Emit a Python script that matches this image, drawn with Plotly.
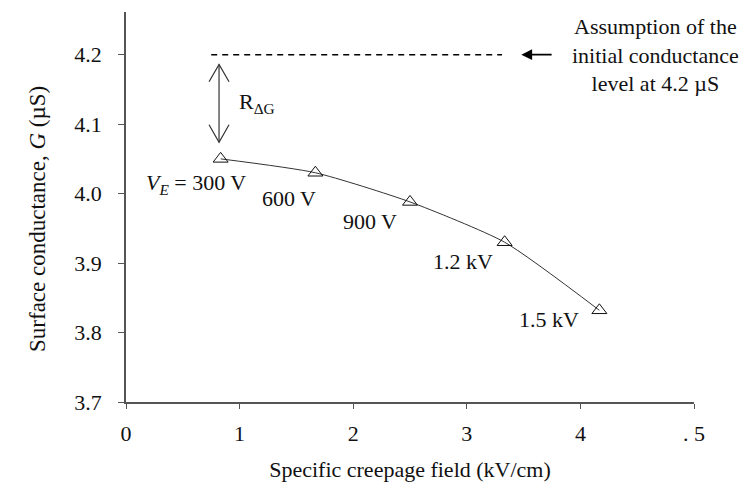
import plotly.graph_objects as go

# Data
field_kv_cm = [0.833, 1.667, 2.5, 3.333, 4.167]
conductance_us = [4.05, 4.03, 3.988, 3.93, 3.832]
point_labels = ["<i>V<sub>E</sub></i> = 300 V", "600 V", "900 V", "1.2 kV", "1.5 kV"]
x_tickvals = [0, 1, 2, 3, 4, 5]
x_ticktext = ["0", "1", "2", "3", "4", ". 5"]
y_tickvals = [3.7, 3.8, 3.9, 4.0, 4.1, 4.2]
initial_level = 4.2

FONT = "Liberation Serif"
FS = 22
fig = go.Figure()

fig.add_trace(go.Scatter(
    x=field_kv_cm, y=conductance_us, mode="lines+markers",
    line=dict(color="#333333", width=1, shape="spline", smoothing=0.6),
    marker=dict(symbol="triangle-up-open", size=13, color="#111111", line=dict(width=1)),
    showlegend=False, hoverinfo="skip",
))

# point labels (offsets in pixels from each marker)
label_shifts = [(-25, 25), (-26, 26), (-40, 20), (-42, 19), (-50, 9)]
for xv, yv, txt, (dx, dy) in zip(field_kv_cm, conductance_us, point_labels, label_shifts):
    fig.add_annotation(x=xv, y=yv, text=txt, showarrow=False, xshift=dx, yshift=-dy,
                       font=dict(family=FONT, size=FS, color="#111111"))

# dashed assumption line
fig.add_shape(type="line", x0=0.75, x1=3.31, y0=initial_level, y1=initial_level,
              line=dict(color="#000000", width=1.5, dash="6px,5px"))
# left-pointing arrow
fig.add_annotation(x=3.48, y=initial_level, ax=3.76, ay=initial_level,
                   xref="x", yref="y", axref="x", ayref="y", text="",
                   showarrow=True, arrowhead=2, arrowsize=1.2, arrowwidth=1.8, arrowcolor="#000000")
fig.add_annotation(x=4.665, y=initial_level, xref="x", yref="y", showarrow=False,
                   text="Assumption of the<br>initial conductance<br>level at 4.2 µS",
                   align="center", font=dict(family=FONT, size=FS, color="#111111"))

# double-headed R_dG arrow with open chevrons
xa = 0.819
ytop, ybot = 4.186, 4.074
fig.add_shape(type="line", x0=xa, x1=xa, y0=ytop, y1=ybot, line=dict(color="#333333", width=1.2))
dxc, dyc = 0.088, 0.025
fig.add_shape(type="path", path=f"M {xa-dxc},{ytop-dyc} L {xa},{ytop} L {xa+dxc},{ytop-dyc}",
              line=dict(color="#333333", width=1.2))
fig.add_shape(type="path", path=f"M {xa-dxc},{ybot+dyc} L {xa},{ybot} L {xa+dxc},{ybot+dyc}",
              line=dict(color="#333333", width=1.2))
fig.add_annotation(x=0.98, y=4.13, text="R<sub>ΔG</sub>", showarrow=False, xanchor="left",
                   font=dict(family=FONT, size=FS, color="#111111"))

# y-axis title drawn as rotated annotation (sits slightly below plot centre in the reference)
fig.add_annotation(xref="paper", yref="paper", x=0, y=0.468, xshift=-103, showarrow=False,
                   textangle=-90, text="Surface conductance, <i>G</i> (µS)",
                   font=dict(family=FONT, size=23, color="#111111"))

fig.update_layout(
    width=746, height=490,
    margin=dict(l=126, r=52, t=12, b=85),
    paper_bgcolor="white", plot_bgcolor="white",
    font=dict(family=FONT, size=FS, color="#111111"),
    xaxis=dict(range=[0, 5], tickvals=x_tickvals, ticktext=x_ticktext,
               showline=True, linecolor="#555555", linewidth=1.5, showgrid=False, zeroline=False,
               ticks="outside", ticklen=5, tickcolor="#555555", tickwidth=1,
               tickfont=dict(family=FONT, size=FS), ticklabelstandoff=6,
               title=dict(text="Specific creepage field (kV/cm)", standoff=16,
                          font=dict(family=FONT, size=FS))),
    yaxis=dict(range=[3.7, 4.2614], tickvals=y_tickvals, tickformat=".1f",
               showline=True, linecolor="#555555", linewidth=1.5, showgrid=False, zeroline=False,
               ticks="outside", ticklen=6, tickcolor="#555555", tickwidth=1,
               tickfont=dict(family=FONT, size=FS), ticklabelstandoff=12),
)

fig.write_html("out.html")
